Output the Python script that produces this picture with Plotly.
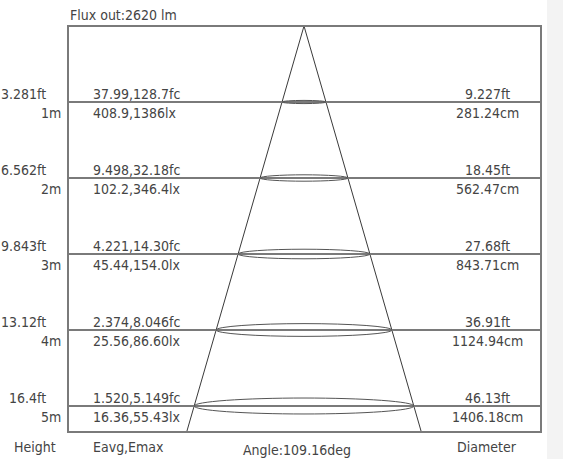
import plotly.graph_objects as go

# ---------------- data ----------------
heights_m = [1, 2, 3, 4, 5]
height_ft_labels = ["3.281ft", "6.562ft", "9.843ft", "13.12ft", "16.4ft"]
height_m_labels = ["1m", "2m", "3m", "4m", "5m"]
eavg_emax_fc = ["37.99,128.7fc", "9.498,32.18fc", "4.221,14.30fc", "2.374,8.046fc", "1.520,5.149fc"]
eavg_emax_lx = ["408.9,1386lx", "102.2,346.4lx", "45.44,154.0lx", "25.56,86.60lx", "16.36,55.43lx"]
diameter_ft = ["9.227ft", "18.45ft", "27.68ft", "36.91ft", "46.13ft"]
diameter_cm = ["281.24cm", "562.47cm", "843.71cm", "1124.94cm", "1406.18cm"]
flux_label = "Flux out:2620 lm"
angle_label = "Angle:109.16deg"
header_height = "Height"
header_e = "Eavg,Emax"
header_d = "Diameter"

# ---------------- drawing geometry (schematic) ----------------
W, H = 563, 459
PX = 76.0                      # pixels per metre on the drawing
apex_px = (304, 26)
box_left = (68 - apex_px[0]) / PX
box_right = (541 - apex_px[0]) / PX
box_top = 0.0
box_bottom = (432 - apex_px[1]) / PX
cone_slope = 0.289             # drawn half-width per metre (schematic)
ell_k = 0.021                  # ellipse half-height per metre (schematic)

x_range = [-apex_px[0] / PX, (W - apex_px[0]) / PX]
y_range = [(H - apex_px[1]) / PX, -apex_px[1] / PX]

FONT = "DejaVu Sans Condensed, Liberation Sans Narrow, Arial Narrow, sans-serif"
TXT = "#444444"
LINE = "#7a7a7a"
CONE = "#3a3a3a"

fig = go.Figure()

# cone sides
bx = cone_slope * box_bottom
fig.add_trace(go.Scatter(x=[-bx, 0, bx], y=[box_bottom, 0, box_bottom], mode="lines",
                         line=dict(color=CONE, width=1), hoverinfo="skip", showlegend=False))

shapes = []
# right gray strip
shapes.append(dict(type="rect", xref="paper", yref="paper", x0=547 / W, x1=1, y0=0, y1=1,
                   fillcolor="#f3f3f3", line=dict(width=0), layer="below"))
# box
shapes.append(dict(type="rect", x0=box_left, x1=box_right, y0=box_top, y1=box_bottom,
                   line=dict(color=LINE, width=2)))
annotations = []
for i, h in enumerate(heights_m):
    shapes.append(dict(type="line", x0=box_left, x1=box_right, y0=h, y1=h,
                       line=dict(color=LINE, width=2)))
    hw = cone_slope * h
    hh = ell_k * h
    shapes.append(dict(type="circle", x0=-hw, x1=hw, y0=h - hh, y1=h + hh,
                       line=dict(color="#555555", width=1)))
    f = dict(family=FONT, size=14, color=TXT)
    annotations += [
        dict(x=(48 - apex_px[0]) / PX, y=h - 0.105, text=height_ft_labels[i], xanchor="right", yanchor="middle", font=f),
        dict(x=(63 - apex_px[0]) / PX, y=h + 0.145, text=height_m_labels[i], xanchor="right", yanchor="middle", font=f),
        dict(x=(91 - apex_px[0]) / PX, y=h - 0.105, text=eavg_emax_fc[i], xanchor="left", yanchor="middle", font=f),
        dict(x=(91 - apex_px[0]) / PX, y=h + 0.145, text=eavg_emax_lx[i], xanchor="left", yanchor="middle", font=f),
        dict(x=(487 - apex_px[0]) / PX, y=h - 0.11, text=diameter_ft[i], xanchor="center", yanchor="middle", font=f),
        dict(x=(487 - apex_px[0]) / PX, y=h + 0.145, text=diameter_cm[i], xanchor="center", yanchor="middle", font=f),
    ]

f = dict(family=FONT, size=14, color=TXT)
annotations += [
    dict(x=box_left, y=(15 - apex_px[1]) / PX, text=flux_label, xanchor="left", yanchor="middle", font=f),
    dict(x=(35 - apex_px[0]) / PX, y=(447 - apex_px[1]) / PX, text=header_height, xanchor="center", yanchor="middle", font=f),
    dict(x=(91 - apex_px[0]) / PX, y=(447 - apex_px[1]) / PX, text=header_e, xanchor="left", yanchor="middle", font=f),
    dict(x=(297 - apex_px[0]) / PX, y=(450 - apex_px[1]) / PX, text=angle_label, xanchor="center", yanchor="middle", font=f),
    dict(x=(487 - apex_px[0]) / PX, y=(447 - apex_px[1]) / PX, text=header_d, xanchor="center", yanchor="middle", font=f),
]
for a in annotations:
    a["showarrow"] = False
    a["xref"] = "x"
    a["yref"] = "y"

fig.update_layout(
    width=W, height=H, margin=dict(l=0, r=0, t=0, b=0),
    paper_bgcolor="white", plot_bgcolor="white",
    xaxis=dict(range=x_range, visible=False, fixedrange=True),
    yaxis=dict(range=y_range, visible=False, fixedrange=True),
    shapes=shapes, annotations=annotations, showlegend=False,
)
fig.write_html(
    "out.html",
    config={"displayModeBar": False},
    post_script="document.body.style.margin='0';document.body.style.overflow='hidden';",
)
